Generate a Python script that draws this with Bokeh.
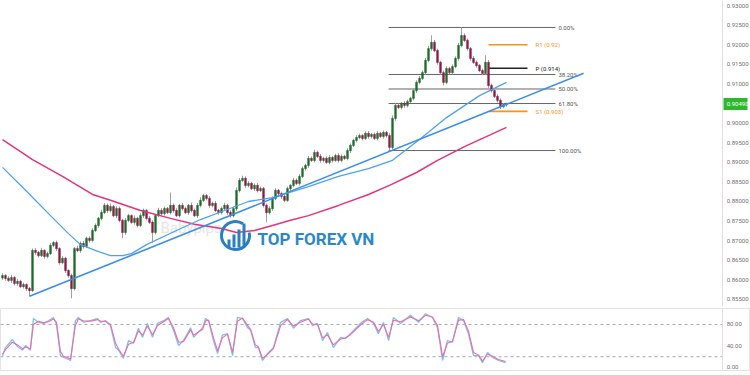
from bokeh.plotting import figure
from bokeh.layouts import column
from bokeh.models import Range1d, Span
from bokeh.core.properties import value
from bokeh.embed import file_html
from bokeh.resources import INLINE

# ---------------- data ----------------
first_open = 0.8605
close = [0.8611, 0.8604, 0.8599, 0.8606, 0.8591, 0.8596, 0.8583, 0.8588, 0.8578, 0.8573,
         0.8675, 0.8670, 0.8662, 0.8675, 0.8660, 0.8667, 0.8688, 0.8695, 0.8680, 0.8644,
         0.8655, 0.8624, 0.8611, 0.8578, 0.8680, 0.8675, 0.8693, 0.8685, 0.8706, 0.8701,
         0.8726, 0.8739, 0.8757, 0.8772, 0.8790, 0.8777, 0.8787, 0.8764, 0.8782, 0.8752,
         0.8721, 0.8752, 0.8764, 0.8747, 0.8757, 0.8739, 0.8764, 0.8777, 0.8757, 0.8747,
         0.8721, 0.8764, 0.8777, 0.8769, 0.8782, 0.8772, 0.8790, 0.8777, 0.8764, 0.8790,
         0.8782, 0.8772, 0.8790, 0.8777, 0.8764, 0.8790, 0.8803, 0.8815, 0.8808, 0.8790,
         0.8795, 0.8777, 0.8772, 0.8782, 0.8790, 0.8772, 0.8764, 0.8782, 0.8828, 0.8854,
         0.8859, 0.8841, 0.8846, 0.8833, 0.8841, 0.8828, 0.8833, 0.8790, 0.8772, 0.8782,
         0.8808, 0.8828, 0.8820, 0.8813, 0.8803, 0.8833, 0.8841, 0.8854, 0.8846, 0.8864,
         0.8884, 0.8892, 0.8910, 0.8905, 0.8925, 0.8915, 0.8905, 0.8910, 0.8900, 0.8912,
         0.8905, 0.8917, 0.8905, 0.8915, 0.8910, 0.8930, 0.8943, 0.8956, 0.8963, 0.8968,
         0.8961, 0.8974, 0.8966, 0.8971, 0.8961, 0.8974, 0.8966, 0.8976, 0.8968, 0.8938,
         0.9012, 0.9045, 0.9040, 0.9050, 0.9045, 0.9055, 0.9063, 0.9083, 0.9104, 0.9114,
         0.9129, 0.9160, 0.9190, 0.9206, 0.9185, 0.9155, 0.9129, 0.9104, 0.9139, 0.9129,
         0.9144, 0.9165, 0.9198, 0.9223, 0.9211, 0.9190, 0.9165, 0.9155, 0.9147, 0.9134,
         0.9127, 0.9155, 0.9096, 0.9083, 0.9068, 0.9058, 0.9042, 0.9047, 0.9049]
upper_wick_pips = [6, 4, 5, 7, 3, 6, 4, 5, 3, 4,
                   5, 6, 4, 7, 3, 5, 6, 4, 5, 3,
                   6, 4, 3, 5, 4, 7, 5, 6, 4, 5,
                   6, 5, 4, 7, 6, 5, 8, 4, 6, 5,
                   4, 6, 5, 3, 7, 4, 6, 5, 4, 6,
                   5, 4, 7, 6, 5, 4, 33, 5, 6, 4,
                   6, 5, 4, 7, 5, 6, 8, 5, 4, 6,
                   5, 6, 4, 5, 7, 4, 6, 5, 8, 6,
                   7, 5, 6, 4, 5, 6, 5, 4, 5, 6,
                   5, 6, 4, 5, 7, 5, 4, 6, 5, 6,
                   5, 4, 6, 5, 7, 5, 6, 4, 5, 6,
                   4, 5, 6, 5, 4, 6, 5, 4, 6, 5,
                   4, 5, 6, 4, 5, 6, 4, 5, 4, 6,
                   8, 6, 5, 4, 6, 5, 4, 6, 5, 6,
                   5, 6, 7, 18, 6, 5, 4, 5, 6, 5,
                   6, 5, 7, 21, 6, 5, 4, 6, 5, 4,
                   5, 18, 6, 5, 4, 6, 5, 4, 3]
lower_wick_pips = [5, 6, 4, 7, 5, 6, 4, 5, 6, 15,
                   4, 6, 5, 4, 6, 5, 4, 5, 6, 5,
                   4, 6, 5, 25, 5, 4, 6, 5, 4, 6,
                   5, 4, 6, 5, 4, 6, 5, 4, 6, 5,
                   15, 6, 5, 4, 6, 5, 4, 6, 5, 4,
                   26, 5, 4, 6, 5, 4, 5, 6, 4, 5,
                   5, 4, 6, 5, 4, 6, 5, 4, 5, 6,
                   5, 4, 6, 5, 4, 6, 5, 4, 6, 5,
                   4, 6, 5, 4, 6, 5, 4, 5, 25, 5,
                   6, 5, 4, 6, 5, 4, 6, 5, 4, 5,
                   4, 5, 6, 4, 5, 4, 6, 5, 4, 5,
                   5, 4, 6, 5, 4, 5, 6, 4, 5, 4,
                   5, 4, 6, 5, 4, 5, 4, 6, 5, 8,
                   5, 6, 4, 5, 6, 5, 4, 5, 6, 5,
                   4, 6, 5, 5, 4, 6, 5, 8, 5, 4,
                   5, 4, 6, 5, 4, 5, 6, 4, 5, 4,
                   5, 4, 6, 5, 4, 5, 6, 4, 5]

blue_ma_idx = [0, 8, 16, 22, 26, 32, 36, 40, 43, 48, 58, 66, 74, 82, 90, 102, 112, 122, 130, 139, 148, 159, 168]
blue_ma_val = [0.8887, 0.8826, 0.8764, 0.8718, 0.8690, 0.8672, 0.8662, 0.8662, 0.8667, 0.8690, 0.8726,
               0.8754, 0.8777, 0.8800, 0.8810, 0.8838, 0.8864, 0.8884, 0.8905, 0.8958, 0.9014, 0.9070, 0.9104]
pink_ma_idx = [0, 10, 20, 30, 36, 46, 56, 64, 73, 78, 84, 90, 96, 102, 112, 122, 129, 138, 145, 154, 160, 168]
pink_ma_val = [0.8958, 0.8907, 0.8864, 0.8818, 0.8803, 0.8777, 0.8757, 0.8742, 0.8731, 0.8721, 0.8726,
               0.8739, 0.8752, 0.8764, 0.8790, 0.8818, 0.8841, 0.8874, 0.8905, 0.8940, 0.8961, 0.8989]
trend_idx = [9, 193.7]
trend_val = [0.8558, 0.9127]

fib_high = 0.9244
fib_low = 0.8930
fib_ratios = [0.0, 0.382, 0.5, 0.618, 1.0]
fib_labels = ["0.00%", "38.20%", "50.00%", "61.80%", "100.00%"]
fib_start, fib_end = 128.7, 184.3

pivot_names = ["R1 (0.92)", "P (0.914)", "S1 (0.903)"]
pivot_vals = [0.920, 0.914, 0.903]
pivot_colors = ["#f7941d", "#222222", "#f7941d"]
pivot_start, pivot_end = 162, 175

price_ticks = [0.855, 0.860, 0.865, 0.870, 0.875, 0.880, 0.885, 0.890, 0.895, 0.900,
               0.910, 0.915, 0.920, 0.925, 0.930]
last_price = 0.9049

stoch_idx = [0, 1, 3.3, 5, 6.7, 7.7, 9.3, 10.3, 12, 13.7,
             15.3, 17, 18, 19.3, 20.3, 22.7, 24.3, 25.3, 27, 29.3,
             31.7, 32.7, 34.3, 36, 37.7, 38.7, 40.3, 42, 43.7, 45.3,
             46.7, 48.3, 50, 51.7, 53.7, 55.3, 57, 58.7, 60.3, 62.7,
             63.7, 66.7, 67.7, 68.7, 70.3, 71.7, 73.3, 75, 76.7, 78.3,
             80, 81.7, 82.7, 84.3, 85.3, 86.7, 88.3, 90.3, 92.7, 95,
             97, 99.3, 102, 103.3, 105, 106.7, 108.3, 110.3, 112.7, 114.3,
             116, 119.3, 121.7, 123.7, 125.3, 127, 128.7, 130.3, 132.7, 136,
             138.7, 141, 143.3, 145, 146.7, 148.3, 150, 152, 153.7, 155.3,
             157, 158.7, 160, 161.7, 163.3, 165.3, 167.7]
stoch_k = [22, 37, 52, 39, 32, 41, 32, 91, 84, 82,
           87, 93, 80, 22, 19, 13, 87, 93, 84, 87,
           91, 84, 87, 78, 37, 32, 17, 50, 45, 73,
           56, 82, 56, 82, 87, 93, 69, 41, 50, 74,
           56, 74, 91, 87, 50, 26, 60, 63, 22, 93,
           91, 74, 69, 37, 37, 13, 26, 37, 84, 91,
           73, 87, 91, 78, 82, 50, 65, 37, 56, 54,
           63, 82, 91, 82, 63, 84, 50, 93, 82, 97,
           84, 100, 93, 74, 13, 50, 47, 93, 87, 63,
           22, 22, 9, 28, 19, 13, 9]
stoch_d = [25, 33, 47, 42, 35, 38, 35, 80, 86, 83,
           85, 90, 84, 30, 21, 16, 78, 90, 87, 86,
           89, 86, 86, 80, 45, 34, 21, 43, 47, 68,
           60, 77, 61, 78, 85, 91, 74, 47, 48, 70,
           60, 71, 87, 88, 56, 31, 55, 62, 28, 86,
           92, 78, 71, 42, 38, 17, 24, 35, 78, 89,
           77, 84, 90, 81, 80, 55, 61, 42, 53, 55,
           61, 79, 89, 84, 67, 80, 56, 88, 85, 94,
           87, 97, 94, 78, 20, 45, 49, 88, 89, 68,
           28, 23, 12, 25, 21, 15, 11]
stoch_ticks = [0, 40, 80]
stoch_levels = [80, 20]

# ---------------- derived candle values ----------------
n = len(close)
idx = list(range(n))
opens = [first_open] + close[:-1]
highs = [max(o, c) + u * 0.0001 for o, c, u in zip(opens, close, upper_wick_pips)]
lows = [min(o, c) - d * 0.0001 for o, c, d in zip(opens, close, lower_wick_pips)]
body_top = [max(o, c) + 0.00004 for o, c in zip(opens, close)]
body_bot = [min(o, c) - 0.00004 for o, c in zip(opens, close)]
body_col = ["#1f6b2a" if c >= o else "#8a1c46" for o, c in zip(opens, close)]

FONT = value("Roboto")
AXIS_IDX = 240          # price-scale border (x = 722 px)
LABEL_IDX = 241.4       # price-scale label column (x = 726 px)
AX_FS = "6px"


def px_x(px):
    return (px - 2) / 3.0


def px_y(py):
    return 0.93 - (py - 5) / 3920.0


# ---------------- main pane ----------------
xr = Range1d(-0.667, 249.333)
main = figure(frame_width=750, frame_height=306,
              x_range=xr, y_range=Range1d(0.853214, 0.931276),
              output_backend="svg", toolbar_location=None,
              min_border_left=0, min_border_right=0, min_border_top=0, min_border_bottom=2)
main.axis.visible = False
main.grid.visible = False
main.outline_line_color = None
main.background_fill_color = "white"

# price scale border and labels
main.add_layout(Span(location=AXIS_IDX, dimension="height", line_color="#e0e0e0", line_width=1))
main.text(x=[LABEL_IDX] * len(price_ticks), y=price_ticks,
          text=["%.5f" % t for t in price_ticks], text_font=FONT,
          text_font_size=AX_FS, text_color="#707070", text_baseline="middle")

# faint watermark text
main.text(x=[px_x(160)], y=[px_y(228)], text=["Babypips"], text_font=FONT,
          text_font_size="15px", text_color="#e6e6e6", text_baseline="middle")

# fib lines
fib_vals = [fib_high - r * (fib_high - fib_low) for r in fib_ratios]
for fv in fib_vals:
    main.line([fib_start, fib_end], [fv, fv], line_color="#666666", line_width=1)
main.text(x=[fib_end + 1] * len(fib_vals), y=fib_vals, text=fib_labels, text_font=FONT,
          text_font_size="6px", text_color="#555555", text_baseline="middle")

# pivots
for pv, pc in zip(pivot_vals, pivot_colors):
    main.line([pivot_start, pivot_end], [pv, pv], line_color=pc, line_width=1.6)
main.text(x=[pivot_end + 2.7] * 3, y=pivot_vals, text=pivot_names, text_font=FONT,
          text_font_size="6px", text_color=pivot_colors, text_baseline="middle")

# candles
main.segment(idx, highs, idx, lows, line_color="#a0a0a0", line_width=1)
main.vbar(x=idx, width=0.6, top=body_top, bottom=body_bot, fill_color=body_col,
          line_color=body_col, line_width=0.5)

# MAs and trendline
main.line(pink_ma_idx, pink_ma_val, line_color="#e8327c", line_width=1.5)
main.line(blue_ma_idx, blue_ma_val, line_color="#4ea3ee", line_width=1.3)
main.line(trend_idx, trend_val, line_color="#3b8fe6", line_width=1.6)

# logo watermark
main.arc(x=[px_x(235)], y=[px_y(235)], radius=14, radius_units="screen",
         start_angle=1.0, end_angle=6.5, line_color="#2a7fc0", line_width=3)
bar_l = [227, 232, 237, 242]
bar_t = [239, 234, 229, 223]
main.quad(left=[px_x(v) for v in bar_l], right=[px_x(v + 3) for v in bar_l],
          top=[px_y(v) for v in bar_t], bottom=[px_y(247)] * 4,
          fill_color="#2a7fc0", line_color=None)
main.text(x=[px_x(257)], y=[px_y(239)], text=["TOP FOREX VN"], text_font=FONT,
          text_font_style="bold", text_font_size="17px", text_color="#2b88c6",
          text_baseline="middle")

# last-price tag
main.quad(left=[px_x(723)], right=[px_x(747)],
          top=[last_price + 6 / 3920.0], bottom=[last_price - 6 / 3920.0],
          fill_color="#2eb82e", line_color=None)
main.text(x=[LABEL_IDX], y=[last_price], text=["%.5f" % last_price], text_font=FONT,
          text_font_size=AX_FS, text_color="white", text_baseline="middle")

# ---------------- stochastic pane ----------------
stoch = figure(frame_width=750, frame_height=62,
               x_range=xr, y_range=Range1d(-5.6, 109.7),
               output_backend="svg", toolbar_location=None,
               min_border_left=0, min_border_right=0, min_border_top=0, min_border_bottom=5)
stoch.axis.visible = False
stoch.grid.visible = False
stoch.outline_line_color = "#e3e3e3"
stoch.add_layout(Span(location=AXIS_IDX, dimension="height", line_color="#e0e0e0", line_width=1))
for lv in stoch_levels:
    stoch.line([-0.667, AXIS_IDX], [lv, lv], line_color="#aaaaaa", line_dash="3 3", line_width=1)
stoch.text(x=[LABEL_IDX] * len(stoch_ticks), y=stoch_ticks,
           text=["%.2f" % t for t in stoch_ticks], text_font=FONT,
           text_font_size=AX_FS, text_color="#707070", text_baseline="middle")
stoch.line(stoch_idx, stoch_k, line_color="#7cc0f5", line_width=1.3)
stoch.line(stoch_idx, stoch_d, line_color="#f06ba8", line_width=1.1)

layout = column(main, stoch, spacing=0)
open("out.html", "w").write(file_html(layout, INLINE))
